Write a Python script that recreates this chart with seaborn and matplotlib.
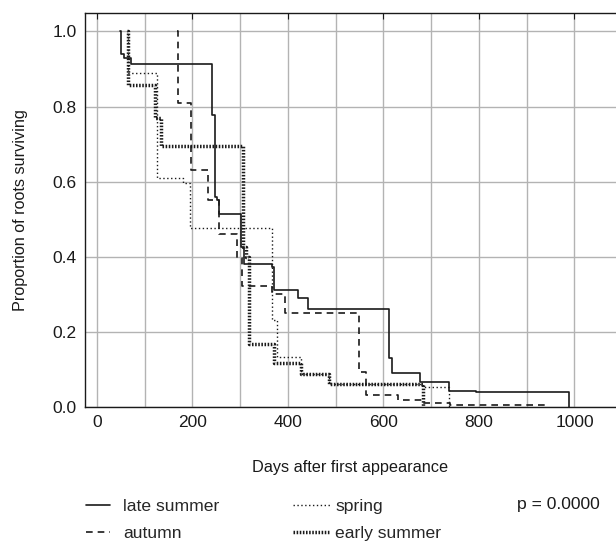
import matplotlib
matplotlib.use("Agg")
import matplotlib.pyplot as plt
from matplotlib.lines import Line2D
from matplotlib.ticker import MultipleLocator, FormatStrFormatter
import pandas as pd
import seaborn as sns

# Kaplan-Meier style survival steps: day of each step and proportion surviving after it
late_summer_days = [49, 50, 56, 71, 241, 247, 251, 256, 302, 309, 366, 371, 422, 443, 611, 618, 676, 738, 793, 989]
late_summer_surv = [1.0, 0.94, 0.929, 0.914, 0.778, 0.56, 0.551, 0.513, 0.427, 0.382, 0.373, 0.311, 0.291, 0.26,
                    0.131, 0.091, 0.067, 0.043, 0.04, 0.0]

autumn_days = [168, 169, 197, 232, 256, 293, 303, 366, 393, 548, 563, 630, 680, 740, 940]
autumn_surv = [1.0, 0.81, 0.631, 0.551, 0.462, 0.396, 0.322, 0.30, 0.251, 0.093, 0.031, 0.02, 0.012, 0.005, 0.0]

spring_days = [63, 66, 126, 181, 195, 366, 377, 428, 485, 682, 738]
spring_surv = [1.0, 0.889, 0.609, 0.596, 0.476, 0.231, 0.133, 0.089, 0.062, 0.052, 0.0]

early_summer_days = [63, 64, 121, 135, 306, 313, 318, 370, 428, 485, 682]
early_summer_surv = [1.0, 0.858, 0.77, 0.696, 0.427, 0.40, 0.167, 0.116, 0.089, 0.062, 0.0]

seasons = ["late summer", "autumn", "spring", "early summer"]
p_label = "p = 0.0000"

series = {
    "late summer": (late_summer_days, late_summer_surv),
    "autumn": (autumn_days, autumn_surv),
    "spring": (spring_days, spring_surv),
    "early summer": (early_summer_days, early_summer_surv),
}
df = pd.concat(
    [pd.DataFrame({"day": d, "surv": s, "season": name}) for name, (d, s) in series.items()],
    ignore_index=True,
)

ink = "#1a1a1a"
line_dashes = {"late summer": "", "autumn": (4, 3), "spring": (1, 1.8), "early summer": (0.45, 0.45)}
line_widths = {"late summer": 1.2, "autumn": 1.2, "spring": 1.0, "early summer": 2.5}

sns.set_style("white")
plt.rcParams["font.family"] = ["Liberation Sans", "DejaVu Sans"]

tick_size = 12.5
label_size = 11.7
legend_size = 12.6

fig = plt.figure(figsize=(6.16, 5.51), dpi=100)
ax = fig.add_axes([0.138, 0.2613, 0.862, 0.7157])

sns.lineplot(
    data=df, x="day", y="surv", hue="season", style="season", size="season",
    hue_order=seasons, style_order=seasons, size_order=seasons,
    palette={s: ink for s in seasons}, dashes=line_dashes, sizes=line_widths,
    estimator=None, sort=False, drawstyle="steps-post", legend=False, ax=ax,
)

ax.set_xlim(-25, 1087)
ax.set_ylim(0, 1.05)
ax.xaxis.set_major_locator(MultipleLocator(200))
ax.xaxis.set_minor_locator(MultipleLocator(100))
ax.yaxis.set_major_locator(MultipleLocator(0.2))
ax.yaxis.set_major_formatter(FormatStrFormatter("%.1f"))

ax.grid(True, which="both", axis="x", color="#b3b3b3", lw=1.0)
ax.grid(True, which="major", axis="y", color="#b3b3b3", lw=1.0)
ax.set_axisbelow(True)

ax.tick_params(which="major", direction="in", length=4, width=0.8, top=True, right=False,
               labelsize=tick_size, pad=6, colors=ink)
ax.tick_params(which="minor", length=0)
for side in ("left", "top", "bottom"):
    ax.spines[side].set_color(ink)
    ax.spines[side].set_linewidth(1.0)
ax.spines["right"].set_visible(False)

ax.set_xlabel("Days after first appearance", fontsize=label_size, color=ink, labelpad=21.5)
ax.set_ylabel("Proportion of roots surviving", fontsize=label_size, color=ink, labelpad=17.5)


def handle(name):
    d = line_dashes[name]
    ls = "-" if d == "" else (0, d)
    return Line2D([], [], color=ink, lw=line_widths[name], linestyle=ls)


fig.legend(
    [handle("late summer"), handle("autumn")], ["late summer", "autumn"],
    loc="upper left", bbox_to_anchor=(0.1396, 0.0945), frameon=False, fontsize=legend_size,
    handlelength=1.38, handletextpad=0.75, labelspacing=0.65, borderaxespad=0, borderpad=0,
)
fig.legend(
    [handle("spring"), handle("early summer")], ["spring", "early summer"],
    loc="upper left", bbox_to_anchor=(0.4756, 0.0945), frameon=False, fontsize=legend_size,
    handlelength=2.13, handletextpad=0.3, labelspacing=0.65, borderaxespad=0, borderpad=0,
)
fig.text(0.839, 0.0835, p_label, fontsize=legend_size, color=ink, va="center", ha="left")

fig.savefig("out.png", dpi=100)
